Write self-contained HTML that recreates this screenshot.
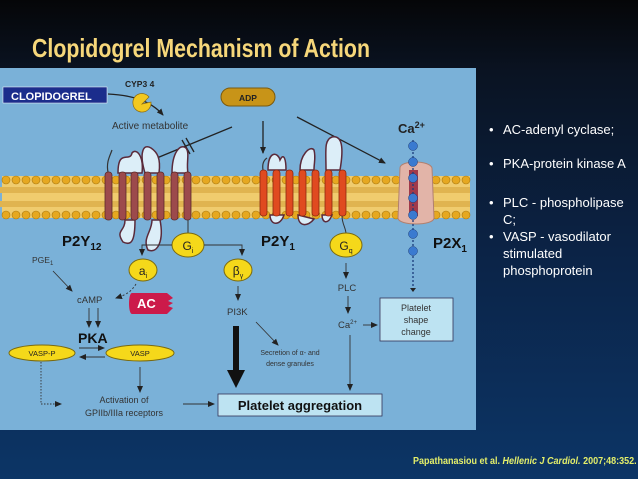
<!DOCTYPE html>
<html><head><meta charset="utf-8"><style>
html,body{margin:0;padding:0}
body{width:638px;height:479px;overflow:hidden;position:relative;background:linear-gradient(180deg,#050608 0%,#0a1322 15%,#0b2448 55%,#0c3566 100%);font-family:"Liberation Sans",sans-serif}
.title{position:absolute;left:32px;top:33px;color:#f6d77a;font-weight:bold;font-size:26px;white-space:nowrap;transform:scaleX(0.82);transform-origin:0 0}
.bul{position:absolute;left:489px;color:#fff;font-size:13px;line-height:17px}
.bul span{position:absolute;left:0}
.bul div{padding-left:14px;width:130px}
.cite{position:absolute;left:413px;top:456px;color:#e4ef6a;font-weight:bold;font-size:10px;white-space:nowrap;transform:scaleX(0.9);transform-origin:0 0}
</style></head><body>
<div class="title">Clopidogrel Mechanism of Action</div>
<svg style="position:absolute;left:0;top:0" width="638" height="479" font-family="Liberation Sans, sans-serif">
<defs>
<marker id="ah" markerWidth="8" markerHeight="8" refX="6" refY="4" orient="auto" markerUnits="userSpaceOnUse"><path d="M0,1 L7,4 L0,7z" fill="#222"/></marker>
</defs>
<rect x="0" y="68" width="476" height="362" fill="#7ab1d8"/>
<rect x="2" y="176" width="468" height="42" fill="#f0cc6e"/>
<path d="M0,190 h470 M0,204 h470" stroke="#e0b450" stroke-width="6"/>
<g fill="#e6a820" stroke="#a87810" stroke-width="0.6">
<g id="row1">
<circle cx="6" cy="180" r="4"/><circle cx="16" cy="180" r="4"/><circle cx="26" cy="180" r="4"/><circle cx="36" cy="180" r="4"/><circle cx="46" cy="180" r="4"/><circle cx="56" cy="180" r="4"/><circle cx="66" cy="180" r="4"/><circle cx="76" cy="180" r="4"/><circle cx="86" cy="180" r="4"/><circle cx="96" cy="180" r="4"/><circle cx="106" cy="180" r="4"/><circle cx="116" cy="180" r="4"/><circle cx="126" cy="180" r="4"/><circle cx="136" cy="180" r="4"/><circle cx="146" cy="180" r="4"/><circle cx="156" cy="180" r="4"/><circle cx="166" cy="180" r="4"/><circle cx="176" cy="180" r="4"/><circle cx="186" cy="180" r="4"/><circle cx="196" cy="180" r="4"/><circle cx="206" cy="180" r="4"/><circle cx="216" cy="180" r="4"/><circle cx="226" cy="180" r="4"/><circle cx="236" cy="180" r="4"/><circle cx="246" cy="180" r="4"/><circle cx="256" cy="180" r="4"/><circle cx="266" cy="180" r="4"/><circle cx="276" cy="180" r="4"/><circle cx="286" cy="180" r="4"/><circle cx="296" cy="180" r="4"/><circle cx="306" cy="180" r="4"/><circle cx="316" cy="180" r="4"/><circle cx="326" cy="180" r="4"/><circle cx="336" cy="180" r="4"/><circle cx="346" cy="180" r="4"/><circle cx="356" cy="180" r="4"/><circle cx="366" cy="180" r="4"/><circle cx="376" cy="180" r="4"/><circle cx="386" cy="180" r="4"/><circle cx="396" cy="180" r="4"/><circle cx="406" cy="180" r="4"/><circle cx="416" cy="180" r="4"/><circle cx="426" cy="180" r="4"/><circle cx="436" cy="180" r="4"/><circle cx="446" cy="180" r="4"/><circle cx="456" cy="180" r="4"/><circle cx="466" cy="180" r="4"/>
</g>
<use href="#row1" y="35"/>
</g>
<g stroke="#222" stroke-width="1.3" fill="none" marker-end="url(#ah)">
<line x1="232" y1="127" x2="152" y2="160"/>
<line x1="263" y1="121" x2="263" y2="153"/>
<line x1="297" y1="117" x2="385" y2="163"/>
<path d="M108,94 C130,95 150,100 163,115"/>
</g>
<path d="M182,140 l8,14 M186,138 l8,14" stroke="#222" stroke-width="1.3"/>
<g fill="#dceef8" stroke="#5a2a3a" stroke-width="1.5">
<path d="M118,173 c0,-25 12,-10 14,-20 c4,-5 12,2 10,20z"/>
<path d="M145,173 c-6,-20 -2,-30 6,-25 c6,4 10,10 8,25z"/>
<path d="M172,173 c0,-20 8,-30 14,-25 c4,5 0,15 2,25z"/>
<path d="M125,220 c0,12 -10,10 -2,22 c8,4 12,0 12,-22z"/>
<path d="M152,220 c0,12 -10,18 -4,30 c10,4 16,-10 12,-30z"/>
<path d="M268,170 c0,-20 10,-18 12,-10 c4,-8 6,0 6,10z"/>
<path d="M300,170 c0,-15 10,-25 14,-20 c2,8 0,12 0,20z"/>
<path d="M326,170 c0,-20 -2,-30 6,-33 c10,-2 12,10 8,33z"/>
<path d="M270,215 c0,10 10,12 14,0z M298,215 c0,12 10,12 16,4z M322,215 c0,8 6,10 10,0z"/>
</g>
<path d="M108,172 c-2,-10 2,-16 4,-22" stroke="#333" fill="none" stroke-width="1.2"/>
<path d="M263,170 c-1,-6 1,-10 4,-12" stroke="#333" fill="none" stroke-width="1.2"/>
<g fill="#9c4a4c" stroke="#5a2a2a" stroke-width="0.8">
<rect x="105" y="172" width="7" height="48" rx="3"/><rect x="119" y="172" width="7" height="48" rx="3"/><rect x="131" y="172" width="7" height="48" rx="3"/><rect x="144" y="172" width="7" height="48" rx="3"/><rect x="157" y="172" width="7" height="48" rx="3"/><rect x="171" y="172" width="7" height="48" rx="3"/><rect x="184" y="172" width="7" height="48" rx="3"/>
</g>
<g fill="#e04a20" stroke="#8a2a10" stroke-width="0.8">
<rect x="260" y="170" width="7" height="46" rx="3"/><rect x="273" y="170" width="7" height="46" rx="3"/><rect x="286" y="170" width="7" height="46" rx="3"/><rect x="299" y="170" width="7" height="46" rx="3"/><rect x="312" y="170" width="7" height="46" rx="3"/><rect x="325" y="170" width="7" height="46" rx="3"/><rect x="339" y="170" width="7" height="46" rx="3"/>
</g>
<path d="M188,220 v14 M342,216 c0,8 4,12 4,18" stroke="#333" fill="none"/>
<path d="M400,168 c0,-8 30,-8 32,0 l2,50 c0,8 -36,8 -36,0z" fill="#e2b4a8" stroke="#b08070"/>
<rect x="409" y="170" width="9" height="46" fill="#a03a4a"/>
<line x1="413" y1="140" x2="413" y2="288" stroke="#1a3a7a" stroke-width="1.3" stroke-dasharray="2,2"/>
<g fill="#3a7ad0" stroke="#1a3a7a" stroke-width="0.5">
<circle cx="413" cy="146" r="4.5"/><circle cx="413" cy="162" r="4.5"/><circle cx="413" cy="178" r="4.5"/><circle cx="413" cy="198" r="4.5"/><circle cx="413" cy="215" r="4.5"/><circle cx="413" cy="234" r="4.5"/><circle cx="413" cy="251" r="4.5"/>
</g>
<path d="M410,288 h6 l-3,4z" fill="#222"/>
<rect x="3" y="87" width="104" height="16" fill="#1b2d8c" stroke="#fff" stroke-width="0.5"/>
<text x="11" y="100" fill="#fff" font-weight="bold" font-size="11">CLOPIDOGREL</text>
<text x="125" y="87" font-weight="bold" font-size="8.5" fill="#222">CYP3 4</text>
<path d="M142,104 m-9,0 a9,9 0 1,0 18,-2 l-9,2 l7,-7 a9,9 0 0,0 -16,7z" fill="#f2c820" stroke="#8a6a10" stroke-width="0.7"/>
<text x="112" y="129" font-size="10" fill="#333">Active metabolite</text>
<rect x="221" y="88" width="54" height="18" rx="9" fill="#c89418" stroke="#7a5a10"/>
<text x="248" y="101" text-anchor="middle" font-weight="bold" font-size="8.5" fill="#222">ADP</text>
<text x="398" y="133" font-weight="bold" font-size="13" fill="#222">Ca<tspan font-size="9" dy="-5">2+</tspan></text>
<text x="62" y="246" font-weight="bold" font-size="15" fill="#111">P2Y<tspan font-size="10" dy="4">12</tspan></text>
<text x="261" y="246" font-weight="bold" font-size="15" fill="#111">P2Y<tspan font-size="10" dy="4">1</tspan></text>
<text x="433" y="248" font-weight="bold" font-size="15" fill="#111">P2X<tspan font-size="10" dy="4">1</tspan></text>
<g fill="#f5d81a" stroke="#7a6a10">
<ellipse cx="188" cy="245" rx="16" ry="12"/><ellipse cx="346" cy="245" rx="16" ry="12"/>
<ellipse cx="143" cy="270" rx="14" ry="11"/><ellipse cx="238" cy="270" rx="14" ry="11"/>
<ellipse cx="42" cy="353" rx="33" ry="8"/><ellipse cx="140" cy="353" rx="34" ry="8"/>
</g>
<text x="188" y="250" text-anchor="middle" font-size="12" fill="#222">G<tspan font-size="7" dy="3">i</tspan></text>
<text x="346" y="250" text-anchor="middle" font-size="12" fill="#222">G<tspan font-size="7" dy="3">q</tspan></text>
<text x="143" y="275" text-anchor="middle" font-size="12" fill="#222">a<tspan font-size="7" dy="3">i</tspan></text>
<text x="238" y="275" text-anchor="middle" font-size="12" fill="#222">β<tspan font-size="7" dy="3">γ</tspan></text>
<text x="42" y="356" text-anchor="middle" font-size="7.5" fill="#222">VASP-P</text>
<text x="140" y="356" text-anchor="middle" font-size="7.5" fill="#222">VASP</text>
<g stroke="#333" fill="none" stroke-width="0.9" marker-end="url(#ah)">
<path d="M172,245 h-30 v10"/><path d="M204,245 h38 v10"/>
<line x1="53" y1="271" x2="72" y2="291"/>
<path d="M136,284 c-6,10 -14,12 -20,14" stroke-dasharray="2,2"/>
<line x1="89" y1="308" x2="89" y2="327"/><line x1="98" y1="308" x2="98" y2="327"/>
<line x1="79" y1="348" x2="104" y2="348"/>
<line x1="105" y1="357" x2="80" y2="357"/>
<line x1="238" y1="286" x2="238" y2="300"/>
<line x1="256" y1="322" x2="278" y2="345"/>
<line x1="346" y1="263" x2="346" y2="278"/><line x1="348" y1="296" x2="348" y2="313"/>
<line x1="363" y1="325" x2="377" y2="325"/>
<line x1="350" y1="335" x2="350" y2="390"/>
<line x1="140" y1="367" x2="140" y2="392"/>
<line x1="183" y1="404" x2="214" y2="404"/>
<path d="M41,362 v42 h20" stroke-dasharray="1.5,1.5"/>
</g>
<rect x="233" y="326" width="6" height="46" fill="#111"/>
<path d="M227,370 h18 l-9,18z" fill="#111"/>
<text x="32" y="263" font-size="8.5" fill="#333">PGE<tspan font-size="6" dy="2">1</tspan></text>
<text x="77" y="303" font-size="9.5" fill="#333">cAMP</text>
<path d="M132,293 h35 l6,5 -5,3 5,2 -5,3 5,2 -6,6 h-35 c-4,0 -4,-21 0,-21z" fill="#cc1a4a"/>
<text x="137" y="308" font-weight="bold" font-size="13" fill="#fff">AC</text>
<text x="227" y="315" font-size="9.5" fill="#333">PI3K</text>
<text x="78" y="343" font-weight="bold" font-size="14" fill="#111">PKA</text>
<text x="290" y="355" text-anchor="middle" font-size="7" fill="#333">Secretion of α- and</text>
<text x="290" y="366" text-anchor="middle" font-size="7" fill="#333">dense granules</text>
<text x="347" y="291" text-anchor="middle" font-size="9.5" fill="#333">PLC</text>
<text x="338" y="328" font-size="9.5" fill="#333">Ca<tspan font-size="6" dy="-4">2+</tspan></text>
<rect x="380" y="298" width="73" height="43" fill="#bde3f2" stroke="#335" stroke-width="0.8"/>
<text x="416" y="311" text-anchor="middle" font-size="9" fill="#333">Platelet</text>
<text x="416" y="323" text-anchor="middle" font-size="9" fill="#333">shape</text>
<text x="416" y="335" text-anchor="middle" font-size="9" fill="#333">change</text>
<rect x="218" y="394" width="164" height="22" fill="#bde3f2" stroke="#335" stroke-width="0.8"/>
<text x="300" y="410" text-anchor="middle" font-weight="bold" font-size="13" fill="#111">Platelet aggregation</text>
<text x="124" y="403" text-anchor="middle" font-size="9" fill="#333">Activation of</text>
<text x="124" y="416" text-anchor="middle" font-size="9" fill="#333">GPIIb/IIIa receptors</text>
</svg>
<div class="bul" style="top:121px"><span>•</span><div>AC-adenyl cyclase;</div></div>
<div class="bul" style="top:155px"><span>•</span><div>PKA-protein kinase A</div></div>
<div class="bul" style="top:194px"><span>•</span><div>PLC - phospholipase<br>C;</div></div>
<div class="bul" style="top:228px"><span>•</span><div>VASP - vasodilator<br>stimulated<br>phosphoprotein</div></div>
<div class="cite">Papathanasiou et al. <i>Hellenic J Cardiol.</i> 2007;48:352.</div>
</body></html>
